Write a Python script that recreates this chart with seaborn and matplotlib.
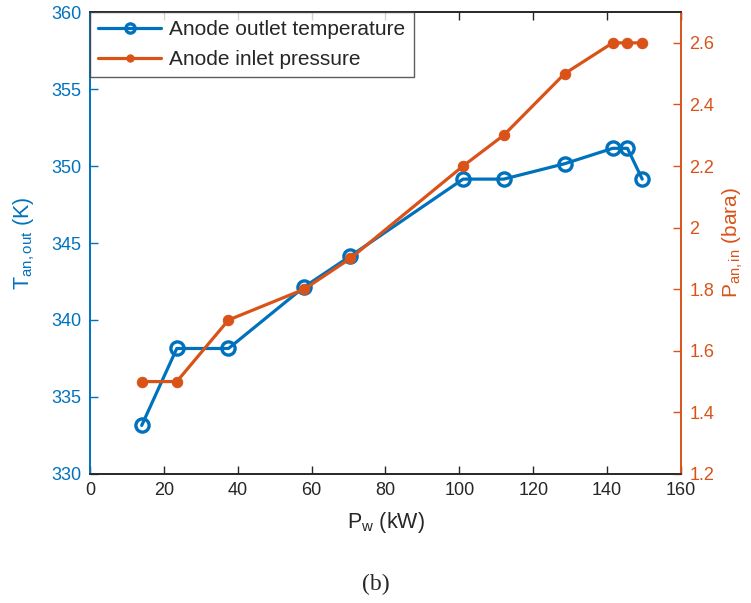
import matplotlib
matplotlib.use("Agg")
import matplotlib.pyplot as plt
import seaborn as sns
import pandas as pd

power_kw = [14, 23.5, 37.5, 58, 70.5, 101, 112, 128.5, 141.5, 145.5, 149.5]
temp_out_k = [333.15, 338.15, 338.15, 342.15, 344.15, 349.15, 349.15, 350.15, 351.15, 351.15, 349.15]
press_in_bara = [1.5, 1.5, 1.7, 1.8, 1.9, 2.2, 2.3, 2.5, 2.6, 2.6, 2.6]
left_ticks = [330, 335, 340, 345, 350, 355, 360]
right_ticks = [1.2, 1.4, 1.6, 1.8, 2.0, 2.2, 2.4, 2.6]
right_tick_labels = ["1.2", "1.4", "1.6", "1.8", "2", "2.2", "2.4", "2.6"]
x_ticks = [0, 20, 40, 60, 80, 100, 120, 140, 160]

sns.set_style("white")
plt.rcParams['font.family'] = ['Liberation Sans', 'DejaVu Sans']
plt.rcParams['mathtext.fontset'] = 'custom'
plt.rcParams['mathtext.rm'] = 'Liberation Sans'
plt.rcParams['mathtext.it'] = 'Liberation Sans'

BLUE = '#0072BD'
ORANGE = '#D95319'
GREY = '#262626'

df = pd.DataFrame({'P': power_kw, 'T': temp_out_k, 'p': press_in_bara})

fig = plt.figure(figsize=(7.51, 6.03), dpi=100)
ax = fig.add_axes([0.1198, 0.214, 0.787, 0.766])
ax2 = ax.twinx()

sns.lineplot(data=df, x='P', y='T', ax=ax, color=BLUE, linewidth=2.3,
             marker='o', markersize=9.5, markerfacecolor='none',
             markeredgecolor=BLUE, markeredgewidth=2.4,
             label='Anode outlet temperature', legend=False)
sns.lineplot(data=df, x='P', y='p', ax=ax2, color=ORANGE, linewidth=2.3,
             marker='o', markersize=7.5, markerfacecolor=ORANGE,
             markeredgecolor=ORANGE, label='Anode inlet pressure', legend=False)

ax.set_xlim(0, 160)
ax.set_ylim(330, 360)
ax2.set_ylim(1.2, 2.7)
ax.set_xticks(x_ticks)
ax.set_xticklabels([str(t) for t in x_ticks])
ax.set_yticks(left_ticks)
ax.set_yticklabels([str(t) for t in left_ticks])
ax2.set_yticks(right_ticks)
ax2.set_yticklabels(right_tick_labels)

ax.tick_params(axis='x', direction='in', length=6, width=1, colors=GREY,
               labelsize=13, top=True, bottom=True, pad=6)
ax.tick_params(axis='y', direction='in', length=6, width=1, colors=BLUE,
               labelsize=13, left=True, right=False, pad=6)
ax2.tick_params(axis='y', direction='in', length=6, width=1, colors=ORANGE,
                labelsize=13, right=True, left=False, pad=6)
ax2.tick_params(axis='x', top=False, bottom=False)

for a in (ax, ax2):
    for s in a.spines.values():
        s.set_linewidth(1.2)
    a.spines['top'].set_color(GREY)
    a.spines['bottom'].set_color(GREY)
    a.spines['left'].set_color(BLUE)
    a.spines['right'].set_color(ORANGE)

ax.set_xlabel(r'P$_{\rm w}$ (kW)', fontsize=15.5, color=GREY, labelpad=8)
ax.set_ylabel(r'T$_{\rm an,out}$ (K)', fontsize=15.5, color=BLUE, labelpad=10)
ax2.set_ylabel(r'P$_{\rm an,in}$ (bara)', fontsize=15, color=ORANGE,
               rotation=90, labelpad=5)
ax2.yaxis.set_label_position('right')

h1, l1 = ax.get_legend_handles_labels()
h2, l2 = ax2.get_legend_handles_labels()
leg = ax2.legend(h1 + h2, l1 + l2, loc='upper left', fontsize=15,
                 frameon=True, fancybox=False, edgecolor='#333333',
                 borderaxespad=0.0, handlelength=3.0, borderpad=0.4,
                 labelspacing=0.5, handletextpad=0.4, markerscale=0.7)
leg.get_frame().set_linewidth(1.0)

fig.text(0.5, 0.03, '(b)', ha='center', va='center', fontsize=17,
         family=['Liberation Serif', 'DejaVu Serif'])

fig.savefig('out.png', dpi=100)
